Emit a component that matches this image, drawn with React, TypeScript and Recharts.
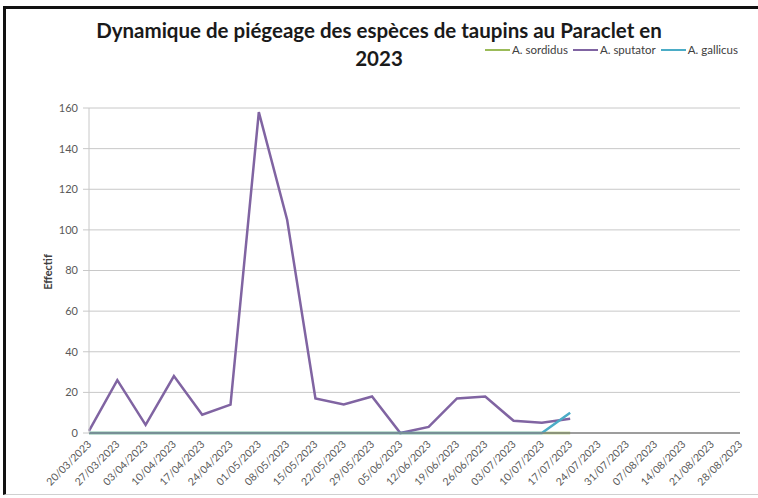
import { LineChart, Line, XAxis, YAxis, CartesianGrid } from "recharts";

const dates = [
  "20/03/2023", "27/03/2023", "03/04/2023", "10/04/2023", "17/04/2023", "24/04/2023",
  "01/05/2023", "08/05/2023", "15/05/2023", "22/05/2023", "29/05/2023", "05/06/2023",
  "12/06/2023", "19/06/2023", "26/06/2023", "03/07/2023", "10/07/2023", "17/07/2023",
  "24/07/2023", "31/07/2023", "07/08/2023", "14/08/2023", "21/08/2023", "28/08/2023",
];

const sordidus = [0, 0, 0, 0, 0, 0, 0, 0, 0, 0, 0, 0, 0, 0, 0, 0, 0, 0, null, null, null, null, null, null];
const sputator = [1, 26, 4, 28, 9, 14, 158, 105, 17, 14, 18, 0, 3, 17, 18, 6, 5, 7, null, null, null, null, null, null];
const gallicus = [0, 0, 0, 0, 0, 0, 0, 0, 0, 0, 0, 0, 0, 0, 0, 0, 0, 10, null, null, null, null, null, null];

const yTicks = [0, 20, 40, 60, 80, 100, 120, 140, 160];

const titleLines = ["Dynamique de piégeage des espèces de taupins au Paraclet en", "2023"];

const series = [
  { key: "sordidus", name: "A. sordidus", color: "#9BBB59" },
  { key: "sputator", name: "A. sputator", color: "#8064A2" },
  { key: "gallicus", name: "A. gallicus", color: "#4BACC6" },
];

const data = dates.map((d, i) => ({
  date: d,
  sordidus: sordidus[i],
  sputator: sputator[i],
  gallicus: gallicus[i],
}));

const FONT = "Lato, 'Open Sans', sans-serif";

const DateTick = (props: any) => {
  const { x, y, payload } = props;
  const tx = x + 3;
  const ty = y + 6;
  return (
    <text
      x={tx}
      y={ty}
      transform={`rotate(-45 ${tx} ${ty})`}
      textAnchor="end"
      fontSize={10.5}
      fill="#595959"
      fontFamily={FONT}
    >
      {payload.value}
    </text>
  );
};

export default function App() {
  return (
    <div
      style={{
        position: "absolute",
        left: 0,
        top: 0,
        width: 758,
        height: 498,
        background: "#fff",
        overflow: "hidden",
        fontFamily: FONT,
      }}
    >
      {/* frame */}
      <div
        style={{
          position: "absolute",
          left: 3,
          top: 6,
          width: 755,
          height: 489,
          borderLeft: "3px solid #111",
          borderTop: "3px solid #111",
          borderBottom: "1px solid #d0d0d0",
          boxSizing: "border-box",
        }}
      />
      {titleLines.map((t, i) => (
        <div
          key={i}
          style={{
            position: "absolute",
            left: 0,
            top: 20 + i * 28,
            width: 758,
            textAlign: "center",
            fontWeight: 700,
            fontSize: 20.5,
            lineHeight: "21px",
            color: "#1a1a1a",
          }}
        >
          {t}
        </div>
      ))}
      <div
        style={{
          position: "absolute",
          right: 20,
          top: 45,
          display: "flex",
          alignItems: "center",
          fontSize: 11.5,
          lineHeight: "10px",
          color: "#404040",
        }}
      >
        {series.map((s) => (
          <div key={s.key} style={{ display: "flex", alignItems: "center", marginLeft: 5 }}>
            <span
              style={{
                display: "inline-block",
                width: 25,
                height: 2,
                background: s.color,
                marginRight: 2,
              }}
            />
            <span>{s.name}</span>
          </div>
        ))}
      </div>
      <div
        style={{
          position: "absolute",
          left: 47,
          top: 272,
          transform: "translate(-50%, -50%) rotate(-90deg)",
          fontSize: 11,
          fontWeight: 700,
          color: "#404040",
        }}
      >
        Effectif
      </div>
      <div style={{ position: "absolute", left: 0, top: 0 }}>
        <LineChart
          width={758}
          height={498}
          data={data}
          margin={{ top: 108, right: 18, bottom: 5, left: 30 }}
        >
          <CartesianGrid vertical={false} stroke="#c8c8c8" strokeWidth={1} />
          <XAxis
            dataKey="date"
            interval={0}
            tick={<DateTick />}
            tickLine={false}
            tickSize={4}
            tickMargin={2}
            axisLine={{ stroke: "#868686", strokeWidth: 1.5 }}
            height={60}
            padding={{ left: 0, right: 0 }}
          />
          <YAxis
            domain={[0, 160]}
            ticks={yTicks}
            width={59}
            tickSize={6}
            tickMargin={5}
            tickLine={{ stroke: "#c8c8c8" }}
            axisLine={{ stroke: "#c8c8c8" }}
            tick={{ fontSize: 11, fill: "#595959", fontFamily: FONT }}
          />
          {series.map((s) => (
            <Line
              key={s.key}
              type="linear"
              dataKey={s.key}
              name={s.name}
              stroke={s.color}
              strokeWidth={2.5}
              dot={false}
              activeDot={false}
              isAnimationActive={false}
            />
          ))}
        </LineChart>
      </div>
    </div>
  );
}
